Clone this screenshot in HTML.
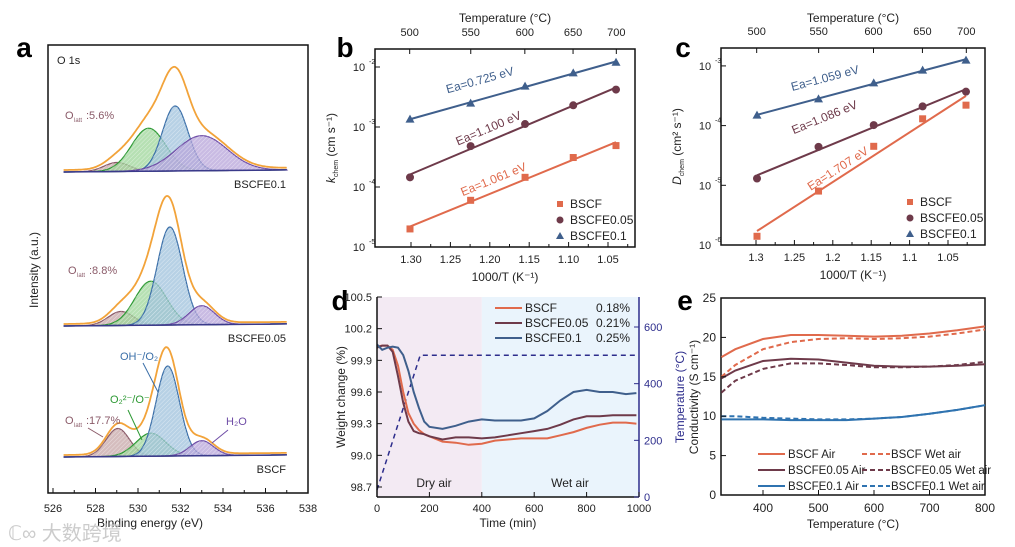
<!DOCTYPE html>
<html><head><meta charset="utf-8"><style>
body{margin:0;background:#fff;}
svg{display:block;font-family:"Liberation Sans","Noto Sans CJK SC",sans-serif;}
</style></head><body>
<svg id="fig" width="1015" height="547" viewBox="0 0 1015 547" xmlns="http://www.w3.org/2000/svg">
<defs>
<pattern id="hatch" width="3" height="3" patternUnits="userSpaceOnUse" patternTransform="rotate(45)"><line x1="0" y1="0" x2="0" y2="3" stroke="#fff" stroke-width="1" opacity="0.5"/></pattern>
</defs>
<g id="pa"></g>
<g id="pb"></g>
<g id="pc"></g>
<g id="pd"></g>
<g id="pe"></g>
<text x="8" y="540" font-size="20" fill="#ccc">ℂ∞ 大数跨境</text>
</svg>
<script>
// ---------- DATA ----------
const xpsSamples = ["BSCFE0.1","BSCFE0.05","BSCF"];
const xpsCenters = [[529.0,530.5,531.75,533.0],[529.2,530.6,531.5,533.0],[529.05,530.6,531.4,533.0]];
const xpsHeights = [[9,43,65,35],[14,44,98,19],[28,23,90,15]];
const xpsWidths = [[0.6,0.8,0.6,1.2],[0.6,0.75,0.6,0.6],[0.55,0.7,0.55,0.55]];
const xpsBaselines = [172,326,457];
const xpsTicks = [526,528,530,532,534,536,538];
const invT = [1.293,1.215,1.145,1.083,1.028];
const tempTicks = [500,550,600,650,700];
const bBSCF = [2.0e-5,6e-5,1.45e-4,3.1e-4,4.9e-4];
const bE005 = [1.45e-4,4.8e-4,1.12e-3,2.3e-3,4.2e-3];
const bE01 = [1.35e-3,2.5e-3,4.8e-3,8e-3,1.2e-2];
const cBSCF = [1.4e-6,8e-6,4.5e-5,1.3e-4,2.2e-4];
const cE005 = [1.3e-5,4.4e-5,1.02e-4,2.1e-4,3.7e-4];
const cE01 = [1.5e-4,2.8e-4,5.2e-4,8.5e-4,1.25e-3];
const bEa = ["Ea=1.061 eV","Ea=1.100 eV","Ea=0.725 eV"];
const cEa = ["Ea=1.707 eV","Ea=1.086 eV","Ea=1.059 eV"];
const invTicksB = ["1.30","1.25","1.20","1.15","1.10","1.05"];
const invTicksC = ["1.3","1.25","1.2","1.15","1.1","1.05"];
const dTime = [0,20,40,60,80,100,120,140,160,180,200,250,300,350,400,450,500,550,600,650,700,750,800,850,900,950,990];
const dBSCF = [100.03,100.04,100.04,100.0,99.85,99.6,99.4,99.3,99.24,99.2,99.18,99.13,99.12,99.1,99.11,99.14,99.15,99.16,99.16,99.16,99.19,99.22,99.26,99.29,99.31,99.31,99.30];
const dE005 = [100.02,100.04,100.04,99.98,99.75,99.5,99.32,99.23,99.21,99.2,99.18,99.15,99.17,99.17,99.16,99.17,99.19,99.21,99.23,99.25,99.29,99.34,99.37,99.37,99.38,99.38,99.38];
const dE01 = [100.05,100.0,100.02,100.03,100.02,99.95,99.8,99.6,99.45,99.32,99.27,99.25,99.28,99.32,99.34,99.33,99.33,99.33,99.35,99.42,99.52,99.6,99.62,99.6,99.6,99.58,99.59];
const dTempTime = [0,165,1000];
const dTempVal = [25,500,500];
const dYTicks = [98.7,99.0,99.3,99.6,99.9,100.2,100.5];
const dTTicks = [0,200,400,600];
const dXTicks = [0,200,400,600,800,1000];
const eTemp = [325,350,400,450,500,550,600,650,700,750,800];
const eBSCFair = [17.5,18.5,19.8,20.3,20.3,20.2,20.1,20.2,20.5,20.9,21.4];
const eBSCFwet = [15,16.5,18.5,19.4,19.8,19.9,19.8,19.9,20.1,20.5,21.0];
const eE005air = [14.8,15.8,17.0,17.3,17.2,16.8,16.4,16.3,16.3,16.4,16.6];
const eE005wet = [13,14.5,16.0,16.7,16.7,16.5,16.2,16.2,16.3,16.5,16.9];
const eE01air = [9.6,9.6,9.6,9.5,9.5,9.5,9.7,9.9,10.3,10.8,11.4];
const eE01wet = [10.0,10.0,9.8,9.7,9.6,9.6,9.7,9.9,10.3,10.8,11.4];
const eYTicks = [0,5,10,15,20,25];
const eXTicks = [400,500,600,700,800];

// ---------- HELPERS ----------
const NS="http://www.w3.org/2000/svg";
function mk(parent,tag,attrs,text){const e=document.createElementNS(NS,tag);for(const k in attrs)e.setAttribute(k,attrs[k]);if(text!==undefined)e.textContent=text;parent.appendChild(e);return e;}
function txt(p,x,y,s,size,opt){opt=opt||{};const e=mk(p,'text',{x:x,y:y,'font-size':size,'text-anchor':opt.anchor||'middle',fill:opt.fill||'#222'},s);if(opt.rot)e.setAttribute('transform','rotate('+opt.rot+' '+x+' '+y+')');if(opt.weight)e.setAttribute('font-weight',opt.weight);return e;}
function pathOf(xs,ys){return xs.map((x,i)=>(i?'L':'M')+x.toFixed(1)+' '+ys[i].toFixed(1)).join(' ');}
function frame(p,x0,y0,x1,y1,col){return mk(p,'rect',{x:x0,y:y0,width:x1-x0,height:y1-y0,fill:'none',stroke:col||'#111','stroke-width':1.5});}

// ---------- PANEL A ----------
(function(){
const g=document.getElementById('pa');
const X=v=>53+(v-526)*21.25;
txt(g,24,57,'a',28,{weight:'bold',fill:'#000'});
const fr=frame(g,48,45,308,493);


txt(g,57,64,'O 1s',11,{anchor:'start'});
const cols=['#8a5a68','#2e9a35','#3b6fa8','#6e4ca6'];
const fills=['#c7a7a8','#9ed69a','#9fc2dc','#b7a4da'];
xpsSamples.forEach((s,si)=>{
  const base=xpsBaselines[si];
  const evs=[];for(let e=526.5;e<=537;e+=0.05)evs.push(e);
  const bl=e=>base-(e-526.5)*0.2;
  const env=evs.map(()=>0);
  xpsCenters[si].forEach((c,ci)=>{
    const h=xpsHeights[si][ci],w=xpsWidths[si][ci];
    const ys=evs.map((e,k)=>{const v=h*Math.exp(-Math.pow(e-c,2)/(2*w*w));env[k]+=v;return bl(e)-v;});
    const xs=evs.map(X);
    const d=pathOf(xs,ys)+' L'+X(537).toFixed(1)+' '+bl(537)+' L'+X(526.5)+' '+bl(526.5)+'Z';
    const a=mk(g,'path',{d:d,fill:fills[ci],'fill-opacity':0.75,stroke:cols[ci],'stroke-width':1.2});
    
    
    mk(g,'path',{d:d,fill:'url(#hatch)',stroke:'none'});
  });
  const bline=mk(g,'line',{x1:X(526.5),y1:bl(526.5),x2:X(537),y2:bl(537),stroke:'#3a3a8a','stroke-width':1.5});
  
  
  const ep=mk(g,'path',{d:pathOf(evs.map(X),evs.map((e,k)=>bl(e)-env[k]*1.04-2)),fill:'none',stroke:'#f2a33a','stroke-width':1.8});
  
  
  txt(g,286,base+16,s,11,{anchor:'end'});
});
txt(g,65,119,'O',11,{anchor:'start',fill:'#8a5a68'});txt(g,74,122,'latt',6,{anchor:'start',fill:'#8a5a68'});txt(g,86,119,':5.6%',11,{anchor:'start',fill:'#8a5a68'});
txt(g,68,274,'O',11,{anchor:'start',fill:'#8a5a68'});txt(g,77,277,'latt',6,{anchor:'start',fill:'#8a5a68'});txt(g,89,274,':8.8%',11,{anchor:'start',fill:'#8a5a68'});
txt(g,65,424,'O',11,{anchor:'start',fill:'#8a5a68'});txt(g,74,427,'latt',6,{anchor:'start',fill:'#8a5a68'});txt(g,86,424,':17.7%',11,{anchor:'start',fill:'#8a5a68'});
txt(g,120,360,'OH⁻/O₂',11,{anchor:'start',fill:'#3b6fa8'});
txt(g,110,403,'O₂²⁻/O⁻',11,{anchor:'start',fill:'#2e9a35'});
txt(g,226,425,'H₂O',11,{anchor:'start',fill:'#6e4ca6'});
mk(g,'line',{x1:143,y1:363,x2:158,y2:392,stroke:'#3b6fa8'});
mk(g,'line',{x1:128,y1:410,x2:142,y2:440,stroke:'#2e9a35'});
mk(g,'line',{x1:228,y1:430,x2:212,y2:443,stroke:'#6e4ca6'});
mk(g,'line',{x1:88,y1:428,x2:103,y2:437,stroke:'#8a5a68'});
xpsTicks.forEach(t=>{mk(g,'line',{x1:X(t),y1:493,x2:X(t),y2:488,stroke:'#111'});if(t<538)mk(g,'line',{x1:X(t+1),y1:493,x2:X(t+1),y2:490,stroke:'#111'});txt(g,X(t),512,String(t),11);});
txt(g,150,527,'Binding energy (eV)',12);
txt(g,38,270,'Intensity (a.u.)',12,{rot:-90});
})();

// ---------- PANEL B / C ----------
function arrPanel(gid,box,decTop,decBot,xa,xb,ta,tb,series,eaTxt,eaPos,ySym,yUnit,ticks,letter,letterX){
const g=document.getElementById(gid);
const [x0,y0,x1,y1]=box;
const ytop=y0,ybot=y1;
const X=v=>xa.px+(v-xa.v)*(xb.px-xa.px)/(xb.v-xa.v);
const TX=v=>ta.px+(v-ta.v)*(tb.px-ta.px)/(tb.v-ta.v);
const Y=v=>ytop+(decTop-Math.log10(v))*(ybot-ytop)/(decTop-decBot);
txt(g,letterX,57,letter,28,{weight:'bold',fill:'#000'});
const fr=frame(g,x0,y0,x1,y1);


const cols=['#e06a4c','#6e3a4a','#3f5f8c'];
series.forEach((s,si)=>{
  const lx=invT.map(v=>v),ly=s.map(v=>Math.log10(v));
  const n=lx.length,mx=lx.reduce((a,b)=>a+b)/n,my=ly.reduce((a,b)=>a+b)/n;
  let sxy=0,sxx=0;for(let i=0;i<n;i++){sxy+=(lx[i]-mx)*(ly[i]-my);sxx+=(lx[i]-mx)**2;}
  const sl=sxy/sxx,f=v=>Math.pow(10,my+sl*(v-mx));
  const ln=mk(g,'line',{x1:X(lx[0]),y1:Y(f(lx[0])),x2:X(lx[n-1]),y2:Y(f(lx[n-1])),stroke:cols[si],'stroke-width':2});
  
  
  s.forEach((v,i)=>{
    let m;const cx=X(invT[i]),cy=Y(v);
    if(si===0)m=mk(g,'rect',{x:cx-3.5,y:cy-3.5,width:7,height:7,fill:cols[si]});
    else if(si===1)m=mk(g,'circle',{cx:cx,cy:cy,r:4,fill:cols[si]});
    else m=mk(g,'path',{d:`M${cx} ${cy-4.5}L${cx+4.5} ${cy+3.5}L${cx-4.5} ${cy+3.5}Z`,fill:cols[si]});
    
    
  });
  const ang=Math.atan2(Y(f(lx[n-1]))-Y(f(lx[0])),X(lx[n-1])-X(lx[0]))*180/Math.PI;
  const p=eaPos[si];
  txt(g,p[0],p[1],eaTxt[si],12,{fill:cols[si],rot:ang});
});
for(let d=Math.ceil(decBot);d<=decTop;d++){const y=Y(Math.pow(10,d));mk(g,'line',{x1:x0,y1:y,x2:x0+5,y2:y,stroke:'#111'});
  txt(g,x0-16,y+4,'10',11,{anchor:'middle'});txt(g,x0-6,y-3,'-'+Math.abs(d),7,{anchor:'start'});}
ticks.forEach((t,i)=>{const v=1.30-0.05*i;const x=TX(v);const h=0.025*(tb.px-ta.px)/(tb.v-ta.v);
  mk(g,'line',{x1:x,y1:y1,x2:x,y2:y1-5,stroke:'#111'});mk(g,'line',{x1:x-h,y1:y1,x2:x-h,y2:y1-3,stroke:'#111'});txt(g,x,y1+16,t,11);});
tempTicks.forEach(t=>{const x=X(1000/(t+273.15));mk(g,'line',{x1:x,y1:y0,x2:x,y2:y0+5,stroke:'#111'});txt(g,x,y0-13,String(t),11);});
const cx=(x0+x1)/2;
txt(g,cx,22,'Temperature (°C)',12);
txt(g,cx,y1+34,'1000/T (K⁻¹)',12);
const yt=mk(g,'text',{x:x0-40,y:(y0+y1)/2,'font-size':12,'text-anchor':'middle',fill:'#222',transform:'rotate(-90 '+(x0-40)+' '+((y0+y1)/2)+')'});
mk(yt,'tspan',{'font-style':'italic'},ySym);
mk(yt,'tspan',{'font-size':7,dy:3},'chem');
mk(yt,'tspan',{dy:-3},' '+yUnit);
const lg=[['BSCF',0],['BSCFE0.05',1],['BSCFE0.1',2]];
lg.forEach(([n,i])=>{const ly=y1-43+i*16,lx=x1-75;
  let m;if(i===0)m=mk(g,'rect',{x:lx-3,y:ly-3,width:6,height:6,fill:cols[0]});else if(i===1)m=mk(g,'circle',{cx:lx,cy:ly,r:3.5,fill:cols[1]});else m=mk(g,'path',{d:`M${lx} ${ly-4}L${lx+4} ${ly+3}L${lx-4} ${ly+3}Z`,fill:cols[2]});
  
  
  txt(g,lx+10,ly+4,n,12,{anchor:'start'});});
}
arrPanel('pb',[375,49,635,247],-1.7,-5,{v:1.293,px:410},{v:1.028,px:616},{v:1.30,px:411},{v:1.05,px:608},[bBSCF,bE005,bE01],bEa,[[495,183],[490,132],[481,84]],'k','(cm s⁻¹)',invTicksB,'b',345);
arrPanel('pc',[721,48,985,245],-2.7,-6,{v:1.293,px:757},{v:1.028,px:966},{v:1.3,px:756},{v:1.05,px:948},[cBSCF,cE005,cE01],cEa,[[840,172],[826,121],[826,82]],'D','(cm² s⁻¹)',invTicksC,'c',683);

// ---------- PANEL D ----------
(function(){
const g=document.getElementById('pd');
const X=v=>377+v*(639-377)/1000;
const Y=v=>297+(100.5-v)*(487-297)/1.8;
const T=v=>497-v*(497-327)/600;
txt(g,340,310,'d',28,{weight:'bold',fill:'#000'});
const dry=mk(g,'rect',{x:377,y:297,width:X(400)-377,height:200,fill:'#f3eaf3'});


const wet=mk(g,'rect',{x:X(400),y:297,width:639-X(400),height:200,fill:'#eaf4fc'});


const tl=mk(g,'path',{d:pathOf(dTempTime.map(X),dTempVal.map(T)),fill:'none',stroke:'#2d2d8c','stroke-width':1.5,'stroke-dasharray':'5 4'});


const cols=['#e06a4c','#6e3a4a','#3f5f8c'];
[dBSCF,dE005,dE01].forEach((s,si)=>{const p=mk(g,'path',{d:pathOf(dTime.map(X),s.map(Y)),fill:'none',stroke:cols[si],'stroke-width':2});
  
  });
mk(g,'line',{x1:377,y1:297,x2:377,y2:497,stroke:'#111','stroke-width':1.5});
mk(g,'line',{x1:377,y1:497,x2:639,y2:497,stroke:'#111','stroke-width':1.5});
mk(g,'line',{x1:639,y1:297,x2:639,y2:497,stroke:'#2d2d8c','stroke-width':1.5});
dYTicks.forEach(t=>{const y=Y(t);mk(g,'line',{x1:377,y1:y,x2:382,y2:y,stroke:'#111'});txt(g,372,y+4,t.toFixed(1),11,{anchor:'end'});});
dTTicks.forEach(t=>{const y=T(t);mk(g,'line',{x1:639,y1:y,x2:634,y2:y,stroke:'#2d2d8c'});txt(g,644,y+4,String(t),11,{anchor:'start',fill:'#2d2d8c'});});
dXTicks.forEach(t=>{mk(g,'line',{x1:X(t),y1:497,x2:X(t),y2:492,stroke:'#111'});txt(g,X(t),512,String(t),11);});
txt(g,508,527,'Time (min)',12);
txt(g,345,397,'Weight change (%)',12,{rot:-90});
txt(g,684,397,'Temperature (°C)',12,{rot:-90,fill:'#2d2d8c'});
txt(g,434,487,'Dry air',12);txt(g,570,487,'Wet air',12);
[['BSCF','0.18%'],['BSCFE0.05','0.21%'],['BSCFE0.1','0.25%']].forEach(([n,v],i)=>{const y=312+i*15;
  const l=mk(g,'line',{x1:495,y1:y-4,x2:522,y2:y-4,stroke:cols[i],'stroke-width':2});
  
  
  txt(g,525,y,n,12,{anchor:'start'});txt(g,630,y,v,12,{anchor:'end'});});
})();

// ---------- PANEL E ----------
(function(){
const g=document.getElementById('pe');
const X=v=>763+(v-400)*(985-763)/400;
const Y=v=>495-v*(495-298)/25;
txt(g,685,310,'e',28,{weight:'bold',fill:'#000'});
const fr=frame(g,721,298,985,495);


const ser=[[eBSCFair,'#e06a4c',0],[eBSCFwet,'#e06a4c',1],[eE005air,'#6e3a4a',0],[eE005wet,'#6e3a4a',1],[eE01air,'#2f73b0',0],[eE01wet,'#2f73b0',1]];
ser.forEach(([s,c,d],i)=>{const p=mk(g,'path',{d:pathOf(eTemp.map(X),s.map(Y)),fill:'none',stroke:c,'stroke-width':2,'stroke-dasharray':d?'5 3':'none'});
  
  });
eYTicks.forEach(t=>{const y=Y(t);mk(g,'line',{x1:721,y1:y,x2:726,y2:y,stroke:'#111'});txt(g,716,y+4,String(t),12,{anchor:'end'});});
eXTicks.forEach(t=>{mk(g,'line',{x1:X(t),y1:495,x2:X(t),y2:490,stroke:'#111'});txt(g,X(t),512,String(t),12);});
txt(g,853,528,'Temperature (°C)',12);
txt(g,698,397,'Conductivity (S cm⁻¹)',12,{rot:-90});
const lab=[['BSCF Air','BSCF Wet air','#e06a4c'],['BSCFE0.05 Air','BSCFE0.05 Wet air','#6e3a4a'],['BSCFE0.1 Air','BSCFE0.1 Wet air','#2f73b0']];
lab.forEach(([a,w,c],i)=>{const y=458+i*16;
  const l1=mk(g,'line',{x1:758,y1:y-4,x2:785,y2:y-4,stroke:c,'stroke-width':2});
  
  
  txt(g,788,y,a,11.5,{anchor:'start'});
  const l2=mk(g,'line',{x1:862,y1:y-4,x2:890,y2:y-4,stroke:c,'stroke-width':2,'stroke-dasharray':'5 3'});
  
  
  txt(g,891,y,w,11.5,{anchor:'start'});});
})();
</script>
</body></html>
